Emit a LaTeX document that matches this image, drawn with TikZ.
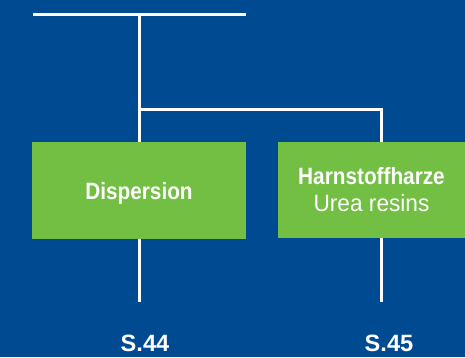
\documentclass[tikz,border=0pt]{standalone}
\usepackage{fontspec}
\setmainfont{Liberation Sans}
\newfontfamily\cnfont{Liberation Sans}[FakeStretch=0.88]
\newfontfamily\rgfont{Liberation Sans}[FakeStretch=0.96]
\definecolor{bgblue}{RGB}{0,74,145}
\definecolor{boxgreen}{RGB}{114,191,68}
\begin{document}
\begin{tikzpicture}[x=1pt,y=-1pt,
  wire/.style={draw=white,line width=3.5pt},
  greenbox/.style={fill=boxgreen,draw=none,inner sep=0pt,text=white,align=center,
    font=\fontsize{23.6}{27}\selectfont},
  pagelabel/.style={text=white,inner sep=0pt,font=\bfseries\fontsize{23.6}{27}\selectfont}]
\fill[bgblue] (0,0) rectangle (465,357);
\useasboundingbox (0,0) rectangle (465,357);
% boxes
\node[greenbox,minimum width=214pt,minimum height=97pt,text depth=0pt] (disp) at (139,190.5)
  {\cnfont\bfseries Dispersion};
\node[greenbox,minimum width=187pt,minimum height=96pt] (urea) at (371.5,190)
  {{\cnfont\bfseries Harnstoffharze}\\{\rgfont Urea resins}};
% coordinates
\coordinate (topL) at (33,14.3);
\coordinate (topR) at (246,14.3);
\coordinate (j1) at (139.5,14.3);
\coordinate (j2) at (139.5,109.5);
\coordinate (j3) at (381.5,109.5);
\coordinate (dispTop) at (139.5,142);
\coordinate (ureaTop) at (381.5,142);
\coordinate (dispBot) at (139.5,239);
\coordinate (ureaBot) at (381.5,238);
\coordinate (dispEnd) at (139.5,302);
\coordinate (ureaEnd) at (381.5,302);
% wires
\draw[wire] (topL) -- (topR);
\draw[wire] (j1) -- (dispTop);
\draw[wire] (j2) -- (j3) -- (ureaTop);
\draw[wire] (dispBot) -- (dispEnd);
\draw[wire] (ureaBot) -- (ureaEnd);
% labels
\node[pagelabel] (s44) at (145,343.5) {S.44};
\node[pagelabel] (s45) at (389,343.5) {S.45};
\end{tikzpicture}
\end{document}
